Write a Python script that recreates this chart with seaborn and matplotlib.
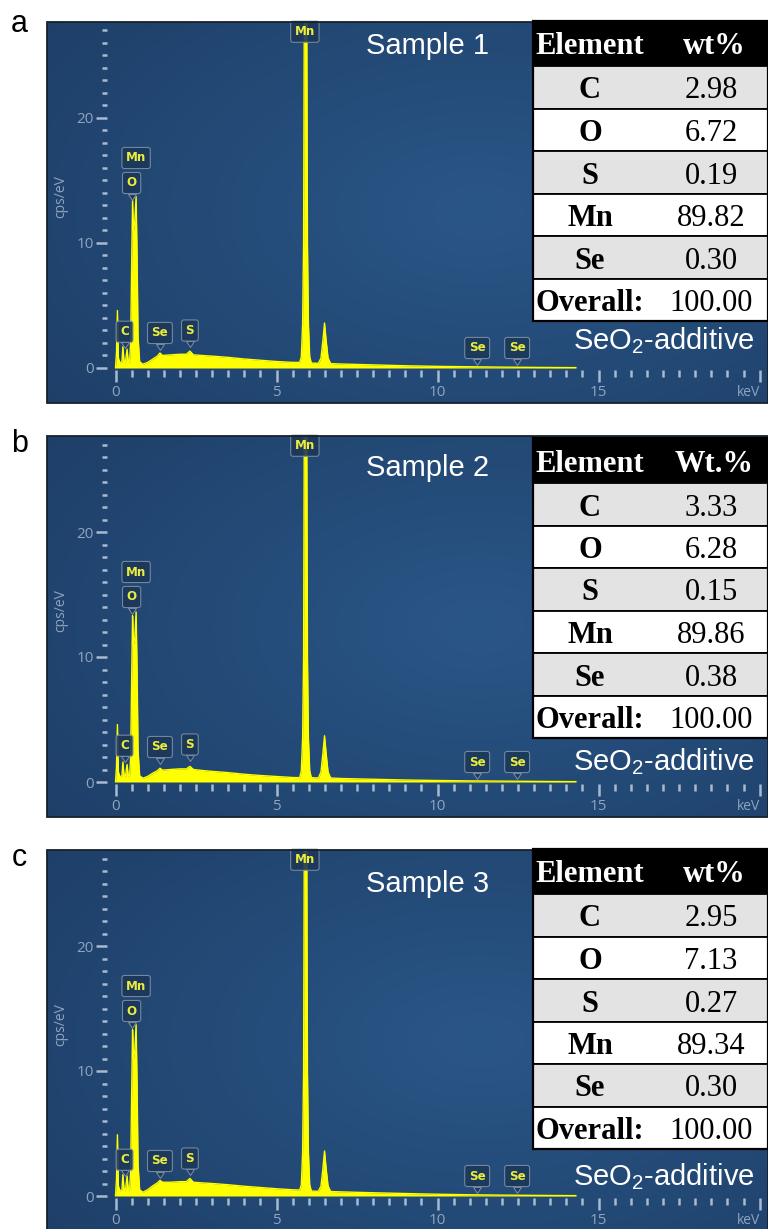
import matplotlib
matplotlib.use("Agg")
import numpy as np
import matplotlib.pyplot as plt
import matplotlib.transforms as mtransforms
from matplotlib.colors import LinearSegmentedColormap
from matplotlib.patches import Rectangle
from matplotlib.ticker import FixedLocator, FixedFormatter
import seaborn as sns

sns.set_style("white")
plt.rcParams["font.family"] = ["Liberation Sans", "DejaVu Sans"]
plt.rcParams["mathtext.fontset"] = "custom"
plt.rcParams["mathtext.rm"] = "Liberation Sans"
plt.rcParams["mathtext.it"] = "Liberation Sans:italic"
plt.rcParams["mathtext.bf"] = "Liberation Sans:bold"

# ---------------------------------------------------------------- spectra
energy_kev = [0.00, 0.03, 0.06, 0.09, 0.14, 0.20, 0.23, 0.27, 0.31, 0.36,
              0.40, 0.44, 0.47, 0.50, 0.53, 0.56, 0.60, 0.64, 0.67, 0.70,
              0.75, 0.85, 1.00, 1.15, 1.30, 1.38, 1.46, 1.70, 2.00, 2.20,
              2.31, 2.42, 2.70, 3.00, 3.50, 4.00, 4.50, 5.00, 5.50, 5.72,
              5.77, 5.81, 5.84, 5.87, 5.90, 5.93, 5.96, 5.99, 6.03, 6.08,
              6.20, 6.30, 6.38, 6.44, 6.49, 6.54, 6.60, 6.68, 7.00, 8.00,
              9.00, 10.0, 11.0, 12.0, 13.0, 14.3]

counts_sample1 = [0.0, 1.2, 4.6, 0.8, 0.4, 0.5, 1.7, 0.4, 0.5, 1.5,
                  0.4, 0.6, 2.0, 8.0, 13.4, 11.0, 11.8, 13.7, 9.0, 2.5,
                  0.5, 0.3, 0.45, 0.7, 0.95, 1.2, 1.0, 1.05, 1.1, 1.1,
                  1.35, 1.05, 1.0, 0.95, 0.85, 0.72, 0.62, 0.52, 0.45, 0.45,
                  0.9, 3.5, 10.0, 35.0, 80.0, 35.0, 10.0, 3.5, 0.9, 0.4,
                  0.38, 0.38, 0.8, 2.2, 3.6, 2.2, 0.8, 0.35, 0.32, 0.25,
                  0.18, 0.13, 0.10, 0.07, 0.05, 0.03]

counts_sample2 = [0.0, 1.2, 4.6, 0.8, 0.4, 0.5, 1.6, 0.4, 0.5, 1.4,
                  0.4, 0.6, 2.0, 8.0, 13.3, 11.0, 11.6, 13.6, 9.0, 2.5,
                  0.5, 0.3, 0.45, 0.7, 0.9, 1.1, 0.95, 1.0, 1.05, 1.05,
                  1.25, 1.0, 0.92, 0.85, 0.75, 0.62, 0.52, 0.44, 0.36, 0.35,
                  0.9, 3.5, 10.0, 35.0, 80.0, 35.0, 10.0, 3.5, 0.9, 0.35,
                  0.33, 0.33, 0.8, 2.3, 3.7, 2.3, 0.8, 0.32, 0.28, 0.22,
                  0.16, 0.12, 0.09, 0.07, 0.05, 0.03]

counts_sample3 = [0.0, 1.3, 4.9, 0.8, 0.4, 0.5, 1.7, 0.4, 0.5, 1.6,
                  0.4, 0.6, 2.0, 8.0, 13.3, 11.0, 11.7, 13.7, 9.0, 2.5,
                  0.5, 0.3, 0.5, 0.8, 1.05, 1.25, 1.1, 1.1, 1.15, 1.15,
                  1.4, 1.1, 1.05, 1.0, 0.9, 0.78, 0.68, 0.58, 0.5, 0.48,
                  0.9, 3.5, 10.0, 35.0, 80.0, 35.0, 10.0, 3.5, 0.9, 0.4,
                  0.38, 0.38, 0.8, 2.2, 3.6, 2.2, 0.8, 0.36, 0.33, 0.26,
                  0.2, 0.14, 0.10, 0.07, 0.05, 0.03]

# peak markers: element, energy of the box, height of the box, has pointer
peak_names = ["Mn", "O", "Mn", "C", "Se", "S", "Se", "Se"]
peak_energy = [5.88, 0.50, 0.64, 0.28, 1.38, 2.31, 11.23, 12.47]
peak_box_y = [26.9, 14.8, 16.8, 2.9, 2.8, 3.0, 1.6, 1.6]
peak_pointer = [False, True, False, True, True, True, True, True]

# axis ticks
y_major = [0, 10, 20]
y_major_labels = ["0", "10", "20"]
y_minor = list(range(0, 28))
x_major = [0, 5, 10, 15, 20]
x_major_labels = ["0", "5", "10", "15", "keV"]
x_minor = [k * 0.5 for k in range(41)]

# ---------------------------------------------------------------- tables
sample_names = ["Sample 1", "Sample 2", "Sample 3"]
panel_letters = ["a", "b", "c"]
wt_headers = ["wt%", "Wt.%", "wt%"]
elements = ["C", "O", "S", "Mn", "Se"]
wt_sample1 = [2.98, 6.72, 0.19, 89.82, 0.30]
wt_sample2 = [3.33, 6.28, 0.15, 89.86, 0.38]
wt_sample3 = [2.95, 7.13, 0.27, 89.34, 0.30]
wt_overall = [100.00, 100.00, 100.00]

counts_all = [counts_sample1, counts_sample2, counts_sample3]
wt_all = [wt_sample1, wt_sample2, wt_sample3]

# ---------------------------------------------------------------- layout
FIG_W, FIG_H = 768, 1229
fig = plt.figure(figsize=(FIG_W / 100, FIG_H / 100), dpi=100, facecolor="white")


def px_rect(x, y, w, h):
    return [x / FIG_W, 1 - (y + h) / FIG_H, w / FIG_W, h / FIG_H]


def fy(y):
    return 1 - y / FIG_H


frame_tops = [22, 436, 850]
table_tops = [21, 438, 849]
letter_baselines = [32, 452, 866]
title_baselines = [54, 476, 892]
note_baselines = [349, 770, 1185]

bg_cmap = LinearSegmentedColormap.from_list("panel_bg", ["#2a5687", "#1c3c64"])
gy, gx = np.mgrid[0:1:120j, 0:1:200j]
glow = np.hypot((gx - 0.6) / 0.75, (gy - 0.5) / 0.85)

tick_col = "#a8bad0"
lab_col = "#8fa4be"
spec_col = "#ffff00"
tag_txt = "#ecec3c"
tag_face = "#1c3859"
tag_edge = "#7d8ea5"
v_marker = [(-1, 0), (1, 0), (0, -1.5), (-1, 0)]
sans_ui = ["Open Sans", "DejaVu Sans"]
tag_font = "DejaVu Sans"

for i in range(3):
    top = frame_tops[i]
    ax = fig.add_axes(px_rect(47, top, 721, 381))
    ax.imshow(glow, extent=(0, 1, 0, 1), transform=ax.transAxes, cmap=bg_cmap,
              origin="lower", aspect="auto", interpolation="bilinear",
              vmin=0, vmax=1.15, zorder=0)

    ax.fill_between(energy_kev, counts_all[i], 0, color=spec_col, lw=0, zorder=2)
    sns.lineplot(x=energy_kev, y=counts_all[i], ax=ax, color=spec_col, lw=1.0,
                 estimator=None, sort=False, zorder=3)

    ax.set_xlim(-2.127, 20.26)
    ax.set_ylim(-2.8, 27.68)

    for s in ax.spines.values():
        s.set_visible(False)
    ax.spines["left"].set_position(("data", -0.264))
    ax.spines["bottom"].set_position(("data", -0.16))

    ax.yaxis.set_major_locator(FixedLocator(y_major))
    ax.yaxis.set_major_formatter(FixedFormatter(y_major_labels))
    ax.yaxis.set_minor_locator(FixedLocator(y_minor))
    ax.xaxis.set_major_locator(FixedLocator(x_major))
    ax.xaxis.set_major_formatter(FixedFormatter(x_major_labels))
    ax.xaxis.set_minor_locator(FixedLocator(x_minor))

    ax.tick_params(which="both", left=True, bottom=True, top=False, right=False,
                   direction="out", color=tick_col, width=1.8,
                   labelcolor=lab_col, labelsize=11, labelfontfamily="Open Sans")
    ax.tick_params(axis="y", which="major", length=8, pad=1.5)
    ax.tick_params(axis="y", which="minor", length=3.8)
    ax.tick_params(axis="x", which="major", length=8.6, pad=2.5)
    ax.tick_params(axis="x", which="minor", length=5)
    for lbl in ax.get_xticklabels():
        if lbl.get_text() == "keV":
            lbl.set_ha("right")
            lbl.set_fontsize(10)

    ax.set_xlabel("")
    ax.set_ylabel("cps/eV", fontsize=10, color=lab_col, family=sans_ui)
    ax.yaxis.set_label_coords(21 / 721, 1 - 175 / 381)

    ax.add_patch(Rectangle((0, 0), 1, 1, transform=ax.transAxes, fill=False,
                           ec="#18212c", lw=1.3, zorder=10, clip_on=False))

    # element tags on the spectrum
    drop = mtransforms.offset_copy(ax.transData, fig=fig, y=-7.6, units="points")
    for name, e, h, ptr in zip(peak_names, peak_energy, peak_box_y, peak_pointer):
        if ptr:
            ax.plot([e], [h], transform=drop, marker=v_marker, ms=8.5, ls="none",
                    mfc=tag_face, mec=tag_edge, mew=0.8, alpha=0.9, zorder=5)
        ax.text(e, h, name, ha="center", va="center", fontsize=8.6,
                fontweight="bold", color=tag_txt, family=tag_font, zorder=6,
                bbox=dict(boxstyle="round,pad=0.34,rounding_size=0.2",
                          fc=tag_face, ec=tag_edge, lw=0.8, alpha=0.9))

    # composition table
    tt = table_tops[i]
    tax = fig.add_axes(px_rect(533, tt, 235, 300))
    tax.set_xlim(0, 235)
    tax.set_ylim(300, 0)
    tax.axis("off")
    tax.add_patch(Rectangle((0, 0), 235, 45, fc="black", ec="black", lw=1.2,
                            clip_on=False))
    tax.text(57, 22.5, "Element", ha="center", va="center_baseline", fontsize=22,
             fontweight="bold", color="white", family="Liberation Serif")
    tax.text(181, 22.5, wt_headers[i], ha="center", va="center_baseline",
             fontsize=22, fontweight="bold", color="white", family="Liberation Serif")
    row_names = elements + ["Overall:"]
    row_vals = wt_all[i] + [wt_overall[i]]
    for r, (nm, v) in enumerate(zip(row_names, row_vals)):
        y0 = 45 + r * 42.5
        fc = "#e3e3e3" if r % 2 == 0 else "white"
        tax.add_patch(Rectangle((0, y0), 235, 42.5, fc=fc, ec="black", lw=1.3,
                                clip_on=False))
        yc = y0 + 21.5
        tax.text(57, yc, nm, ha="center", va="center_baseline", fontsize=22,
                 fontweight="bold", color="black", family="Liberation Serif")
        tax.text(178, yc, f"{v:.2f}", ha="center", va="center_baseline",
                 fontsize=22, color="black", family="Liberation Serif")
    tax.add_patch(Rectangle((0, 0), 235, 300, fill=False, ec="black", lw=1.6,
                            clip_on=False))

    # panel annotations
    fig.text(428 / FIG_W, fy(title_baselines[i]), sample_names[i], ha="center",
             va="baseline", fontsize=21, color="white")
    fig.text(664 / FIG_W, fy(note_baselines[i]), "SeO$_2$-additive", ha="center",
             va="baseline", fontsize=21, color="white")
    fig.text(19.5 / FIG_W, fy(letter_baselines[i]), panel_letters[i], ha="center",
             va="baseline", fontsize=22, color="black")

fig.savefig("out.png", dpi=100, facecolor="white")
